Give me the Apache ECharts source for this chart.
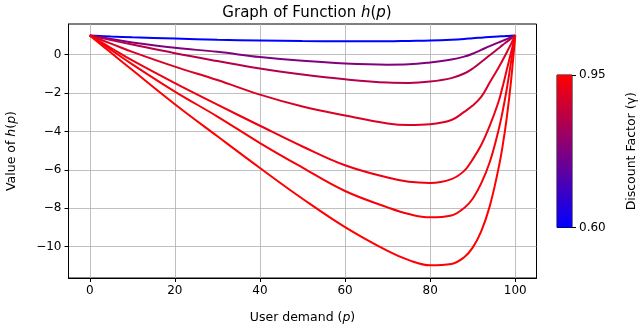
<!DOCTYPE html>
<html>
<head>
<meta charset="utf-8">
<script src="https://cdn.jsdelivr.net/npm/echarts@6/dist/echarts.min.js"></script>
<style>
  html, body { margin: 0; padding: 0; background: #fff; }
  #chart { width: 640px; height: 329px; }
</style>
</head>
<body>
<div id="chart"></div>
<script>
// user demand p (x) shared by every curve
const demand = [0, 5, 10, 20, 30, 40, 50, 60, 70, 75, 80, 85, 88, 90, 92, 94, 96, 97, 98, 99, 100]

// discount factors, one per curve
const gammas = [0.60, 0.78, 0.85, 0.90, 0.93, 0.94, 0.95]

// h(p), one list per gamma
const hGamma060 = [1, 0.95, 0.91, 0.84, 0.78, 0.74, 0.71, 0.70, 0.70, 0.72, 0.74, 0.78, 0.82, 0.86, 0.89, 0.92, 0.95, 0.96, 0.97, 0.99, 1]
const hGamma078 = [1, 0.82, 0.64, 0.36, 0.15, -0.12, -0.32, -0.46, -0.52, -0.50, -0.40, -0.25, -0.10, 0.05, 0.25, 0.45, 0.63, 0.72, 0.81, 0.90, 1]
const hGamma085 = [1, 0.76, 0.53, 0.08, -0.33, -0.72, -1.03, -1.28, -1.45, -1.47, -1.40, -1.22, -0.98, -0.72, -0.38, -0.03, 0.32, 0.50, 0.67, 0.84, 1]
const hGamma090 = [1, 0.58, 0.15, -0.62, -1.32, -2.08, -2.70, -3.17, -3.58, -3.66, -3.62, -3.40, -2.98, -2.65, -2.20, -1.45, -0.70, -0.30, 0.12, 0.55, 1]
const hGamma093 = [1, 0.35, -0.30, -1.48, -2.60, -3.70, -4.78, -5.76, -6.40, -6.62, -6.68, -6.48, -6.05, -5.45, -4.70, -3.70, -2.50, -1.70, -0.80, 0.10, 1]
const hGamma094 = [1, 0.25, -0.50, -1.92, -3.22, -4.60, -5.88, -7.10, -7.95, -8.30, -8.47, -8.37, -7.98, -7.50, -6.70, -5.60, -4.00, -3.00, -1.80, -0.40, 1]
const hGamma095 = [1, 0.10, -0.80, -2.58, -4.25, -5.90, -7.50, -8.98, -10.22, -10.70, -10.97, -10.90, -10.55, -10.05, -9.20, -7.90, -6.00, -4.80, -3.30, -1.40, 1]
const curves = [hGamma060, hGamma078, hGamma085, hGamma090, hGamma093, hGamma094, hGamma095]

// tick labels
const xTicks = [0, 20, 40, 60, 80, 100]
const yTicks = [-10, -8, -6, -4, -2, 0]
const gammaRange = [0.60, 0.95]

const font = 'DejaVu Sans'

// blue -> red colormap, same as the colorbar
function gammaColor(g) {
  let t = (g - gammaRange[0]) / (gammaRange[1] - gammaRange[0])
  return 'rgb(' + Math.round(255 * t) + ',0,' + Math.round(255 * (1 - t)) + ')'
}

function minusLabel(v) {
  return v < 0 ? '\u2212' + (-v) : String(v)
}

let lineSeries = curves.map((vals, i) => ({
  name: 'gamma ' + gammas[i],
  type: 'line',
  xAxisIndex: 0,
  yAxisIndex: 0,
  showSymbol: false,
  smooth: 0.4,
  lineStyle: { width: 2, color: gammaColor(gammas[i]) },
  itemStyle: { color: gammaColor(gammas[i]) },
  data: demand.map((p, j) => [p, vals[j]]),
}))

let colorbarSeries = [
  {
    type: 'bar',
    xAxisIndex: 1,
    yAxisIndex: 1,
    stack: 'cb',
    barWidth: '100%',
    itemStyle: { color: 'rgba(0,0,0,0)' },
    data: [gammaRange[0]],
  },
  {
    type: 'bar',
    xAxisIndex: 1,
    yAxisIndex: 1,
    stack: 'cb',
    barWidth: '100%',
    itemStyle: {
      color: {
        type: 'linear', x: 0, y: 1, x2: 0, y2: 0,
        colorStops: [
          { offset: 0, color: gammaColor(gammaRange[0]) },
          { offset: 1, color: gammaColor(gammaRange[1]) },
        ],
      },
    },
    data: [gammaRange[1] - gammaRange[0]],
  },
]

let option = {
  animation: false,
  backgroundColor: '#fff',
  title: {
    text: 'Graph of Function {i|h}({i|p})',
    left: 302,
    top: 1,
    textAlign: 'center',
    textStyle: {
      fontFamily: font,
      fontSize: 15,
      fontWeight: 'normal',
      color: '#000',
      rich: { i: { fontFamily: font, fontSize: 15, fontStyle: 'italic', color: '#000' } },
    },
  },
  grid: [
    { left: 68.5, right: 103.5, top: 24, bottom: 51, outerBoundsMode: 'none', show: true, borderColor: '#000', borderWidth: 1, backgroundColor: 'transparent' },
    { left: 557, top: 75, width: 15, height: 152.5, outerBoundsMode: 'none', show: true, borderColor: '#000', borderWidth: 1, backgroundColor: 'transparent' },
  ],
  xAxis: [
    {
      type: 'value',
      gridIndex: 0,
      min: -5,
      max: 105,
      name: 'User demand ({i|p})',
      nameLocation: 'middle',
      nameGap: 33,
      nameTextStyle: {
        fontFamily: font, fontSize: 12.5, color: '#000',
        rich: { i: { fontFamily: font, fontSize: 12.5, fontStyle: 'italic', color: '#000' } },
      },
      axisLine: { show: true, onZero: false, lineStyle: { color: '#000', width: 1 } },
      axisTick: { show: true, customValues: xTicks, length: 4, lineStyle: { color: '#000' } },
      axisLabel: { customValues: xTicks, color: '#000', fontFamily: font, fontSize: 12, margin: 7 },
      splitLine: { show: true, lineStyle: { color: '#b0b0b0', width: 0.8 } },
    },
    {
      type: 'category',
      gridIndex: 1,
      show: false,
      data: ['cb'],
    },
  ],
  yAxis: [
    {
      type: 'value',
      gridIndex: 0,
      min: -11.63,
      max: 1.6,
      name: 'Value of {i|h}({i|p})',
      nameLocation: 'middle',
      nameGap: 50,
      nameRotate: 90,
      nameTextStyle: {
        fontFamily: font, fontSize: 12.5, color: '#000',
        rich: { i: { fontFamily: font, fontSize: 12.5, fontStyle: 'italic', color: '#000' } },
      },
      axisLine: { show: true, onZero: false, lineStyle: { color: '#000', width: 1 } },
      axisTick: { show: true, customValues: yTicks, length: 4, lineStyle: { color: '#000' } },
      axisLabel: { customValues: yTicks, color: '#000', fontFamily: font, fontSize: 12, margin: 7, formatter: minusLabel },
      splitLine: { show: true, lineStyle: { color: '#b0b0b0', width: 0.8 } },
    },
    {
      type: 'value',
      gridIndex: 1,
      position: 'right',
      min: gammaRange[0],
      max: gammaRange[1],
      name: 'Discount Factor (\u03b3)',
      nameLocation: 'middle',
      nameGap: 53,
      nameRotate: 90,
      nameTextStyle: { fontFamily: font, fontSize: 12.5, color: '#000' },
      axisLine: { show: false },
      axisTick: { show: true, customValues: gammaRange, length: 4, lineStyle: { color: '#000' } },
      axisLabel: { customValues: gammaRange, color: '#000', fontFamily: font, fontSize: 12, margin: 7, formatter: (v) => v.toFixed(2) },
      splitLine: { show: false },
    },
  ],
  series: lineSeries.concat(colorbarSeries),
}

let chart = echarts.init(document.getElementById('chart'))
chart.setOption(option)
</script>
</body>
</html>
